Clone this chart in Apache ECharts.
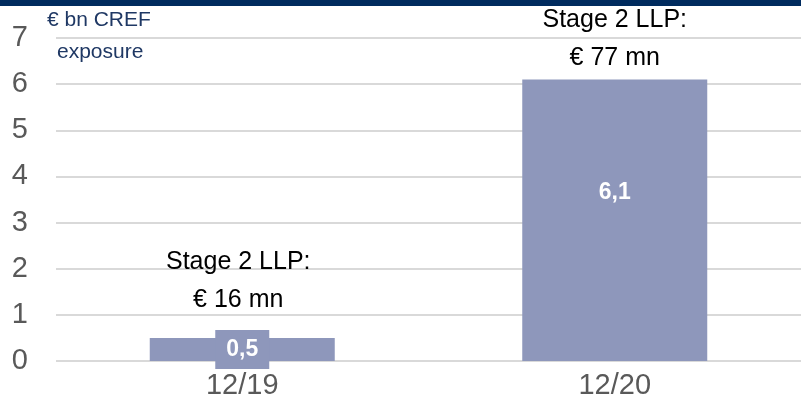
<!DOCTYPE html>
<html>
<head>
<meta charset="utf-8">
<script src="https://cdn.jsdelivr.net/npm/echarts@6/dist/echarts.min.js"></script>
<style>
  html, body { margin: 0; padding: 0; background: #fff; }
  #chart { width: 801px; height: 409px; }
  .topband { position: absolute; left: 0; top: 0; width: 801px; height: 6px; background: #002b5e; z-index: 2; }
</style>
</head>
<body>
<div class="topband"></div>
<div id="chart"></div>
<script>
// 数据
var categories = ['12/19', '12/20']
var exposure = [0.5, 6.1]
var llpMn = [16, 77]
var yTicks = [0, 1, 2, 3, 4, 5, 6, 7]

var barColor = '#8e97bb'
var myChart = echarts.init(document.getElementById('chart'))

var options = {
  animation: false,
  grid: { left: 56, right: -3, top: 38, bottom: 48 },
  graphic: [
    { type: 'text', left: 47, top: 10, style: { text: '€ bn CREF', fill: '#1f3864', font: '21px "Liberation Sans", Arial' } },
    { type: 'text', left: 57, top: 42, style: { text: 'exposure', fill: '#1f3864', font: '21px "Liberation Sans", Arial' } }
  ],
  xAxis: {
    type: 'category',
    data: categories,
    axisLine: { show: false },
    axisTick: { show: false },
    axisLabel: { color: '#595959', fontSize: 29, fontFamily: 'Liberation Sans', margin: 10 }
  },
  yAxis: {
    type: 'value',
    min: yTicks[0],
    max: yTicks[yTicks.length - 1],
    interval: 1,
    axisLine: { show: false },
    axisTick: { show: false },
    axisLabel: { color: '#595959', fontSize: 29, fontFamily: 'Liberation Sans', margin: 28 },
    splitLine: { lineStyle: { color: '#d9d9d9', width: 2 } }
  },
  series: [
    {
      type: 'bar',
      barWidth: 185,
      barGap: '-100%',
      itemStyle: { color: barColor },
      data: exposure.map(function (v, i) {
        return {
          value: v,
          label: i === 0
            ? { position: 'inside', backgroundColor: barColor, padding: [8, 11, 8, 11] }
            : { position: 'inside', offset: [0, -28] }
        }
      }),
      label: {
        show: true,
        color: '#fff',
        fontWeight: 'bold',
        fontSize: 23,
        fontFamily: 'Liberation Sans',
        formatter: function (p) { return String(p.value).replace('.', ',') }
      },
      z: 3
    },
    {
      // 注释文字
      type: 'bar',
      barWidth: 185,
      itemStyle: { color: 'rgba(0,0,0,0)' },
      data: exposure.map(function (v, i) {
        return { value: v, label: { distance: i === 0 ? 19 : 2, offset: [i === 0 ? -4 : 0, 0] } }
      }),
      label: {
        show: true,
        position: 'top',
        color: '#000',
        fontSize: 25,
        fontFamily: 'Liberation Sans',
        lineHeight: 38,
        formatter: function (p) { return 'Stage 2 LLP:\n€ ' + llpMn[p.dataIndex] + ' mn' }
      },
      silent: true,
      z: 4
    }
  ]
}
myChart.setOption(options)
</script>
</body>
</html>
